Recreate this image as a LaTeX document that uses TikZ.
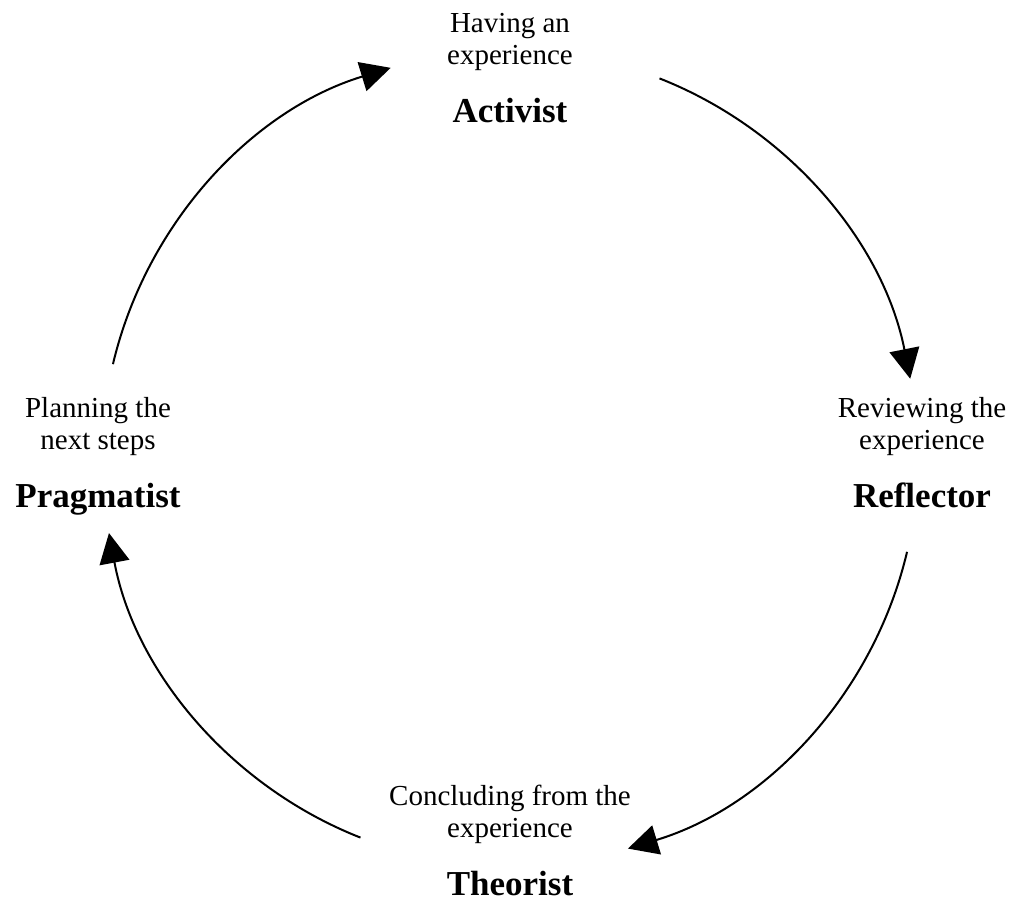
\documentclass[tikz,border=0pt]{standalone}
\usepackage{fontspec}
\setmainfont{Liberation Serif}
\usetikzlibrary{arrows.meta}
\tikzset{
  phase/.style={align=center, anchor=base, inner sep=0pt,
    font=\fontsize{14.5}{16}\selectfont},
  role/.style={anchor=base, inner sep=0pt,
    font=\fontsize{17.5}{20}\selectfont\bfseries},
  cyclearrow/.style={line width=1pt, -{Triangle[length=15pt,width=15pt]}}
}
\begin{document}
\begin{tikzpicture}[x=0.5pt,y=0.5pt]
      \useasboundingbox (-510,-444) rectangle (501,458);
      \node[phase] (having) at (0,394) {Having an\\experience};
      \node[role] (activist) at (0,336) {Activist};
      \node[phase] (reviewing) at (412,9) {Reviewing the\\experience};
      \node[role] (reflector) at (412,-49) {Reflector};
      \node[phase] (concluding) at (0,-379) {Concluding from the\\experience};
      \node[role] (theorist) at (0,-437) {Theorist};
      \node[phase] (planning) at (-412,9) {Planning the\\next steps};
      \node[role] (pragmatist) at (-412,-49) {Pragmatist};
      \coordinate (a) at (68.5:408);
      \coordinate (r) at (-13.3:408);
      \coordinate (t) at (248.5:408);
      \coordinate (p) at (166.7:408);
      \begin{scope}[cyclearrow]
        \draw (a) arc[start angle=68.5, end angle=11.2, radius=408];
        \draw (r) arc[start angle=-13.3, end angle=-73.2, radius=408];
        \draw (t) arc[start angle=248.5, end angle=190.6, radius=408];
        \draw (p) arc[start angle=166.7, end angle=107, radius=408];
      \end{scope}
    \end{tikzpicture}
\end{document}
